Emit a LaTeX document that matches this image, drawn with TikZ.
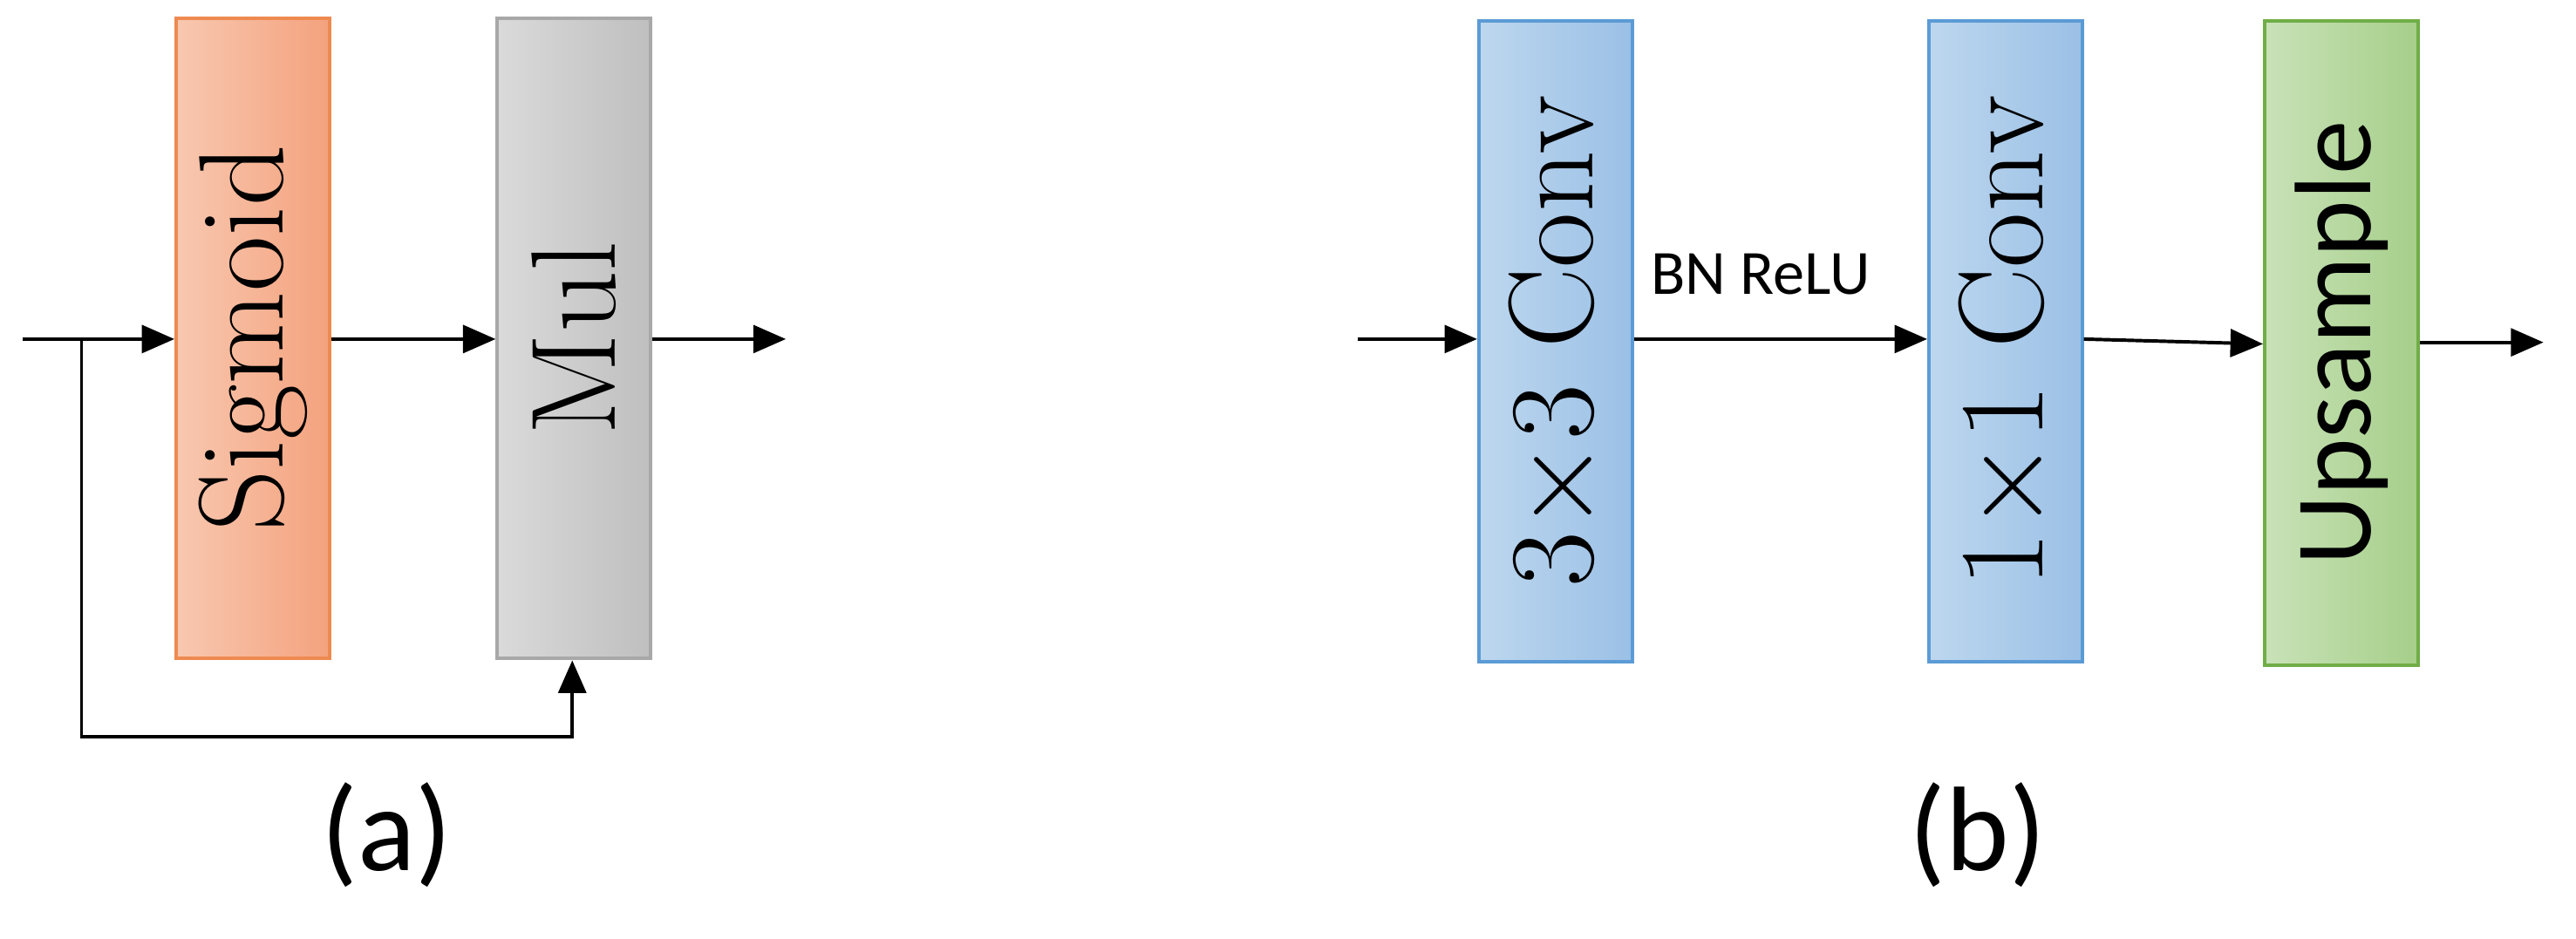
\documentclass[tikz,border=0pt]{standalone}
\usepackage{fontspec}
\newfontfamily\labfont{Carlito}
\usetikzlibrary{arrows.meta}
\definecolor{oL}{HTML}{F8C8B0}\definecolor{oR}{HTML}{F4A27E}\definecolor{oB}{HTML}{EE8A50}
\definecolor{gL}{HTML}{DADADA}\definecolor{gR}{HTML}{BFBFBF}\definecolor{gB}{HTML}{A8A8A8}
\definecolor{bL}{HTML}{BDD7EE}\definecolor{bR}{HTML}{9BC0E6}\definecolor{bB}{HTML}{5B9BD5}
\definecolor{nL}{HTML}{C9E2B8}\definecolor{nR}{HTML}{A6CF8A}\definecolor{nB}{HTML}{70AD47}
\tikzset{
 blk/.style={draw=#1B, line width=0.6pt, left color=#1L, right color=#1R, minimum width=0.94cm, minimum height=3.93cm, inner sep=0pt, anchor=north west},
 btxt/.style={rotate=90, font=\fontsize{21}{24}\selectfont},
 ar/.style={line width=0.6pt, -{Triangle[length=0.2cm,width=0.17cm]}},
}
\begin{document}
\begin{tikzpicture}
\useasboundingbox (0,0) rectangle (15.80,5.76);
% (a)
\node[blk=o] (sig) at (1.07,5.66) {};
\node[btxt] at (sig.center) {Sigmoid};
\node[blk=g] (mul) at (3.04,5.66) {};
\node[btxt] at (mul.center) {Mul};
\coordinate (ina) at (0.14,3.68);
\coordinate (outa) at (4.82,3.68);
\coordinate (br) at (0.50,3.68);
\draw[ar] (ina) -- (sig.west|-ina);
\draw[ar] (sig.east|-ina) -- (mul.west|-ina);
\draw[ar] (mul.east|-ina) -- (outa);
\draw[ar] (br) -- (0.50,1.24) -- (3.51,1.24) -- (mul.south-|3.51,0);
\node[font=\labfont\fontsize{21}{25}\selectfont] (la) at (2.37,0.64) {(a)};
% (b)
\node[blk=b] (c3) at (9.06,5.64) {};
\node[btxt] at (c3.center) {3$\times$3 Conv};
\node[blk=b] (c1) at (11.82,5.64) {};
\node[btxt] at (c1.center) {1$\times$1 Conv};
\node[blk=n, minimum height=3.95cm] (up) at (13.88,5.64) {};
\node[btxt, font=\labfont\fontsize{19}{23}\selectfont] at (up.center) {Upsample};
\coordinate (inb) at (8.33,3.68);
\coordinate (outb) at (15.60,3.66);
\draw[ar] (inb) -- (c3.west|-inb);
\draw[ar] (c3.east|-inb) -- (c1.west|-inb);
\node[font=\labfont\fontsize{11}{13}\selectfont] (bn) at (10.80,4.08) {BN\ ReLU};
\draw[ar] (c1.east|-inb) -- (up.west|-0,3.65);
\draw[ar] (up.east|-outb) -- (outb);
\node[font=\labfont\fontsize{21}{25}\selectfont] (lb) at (12.13,0.64) {(b)};
\end{tikzpicture}
\end{document}
